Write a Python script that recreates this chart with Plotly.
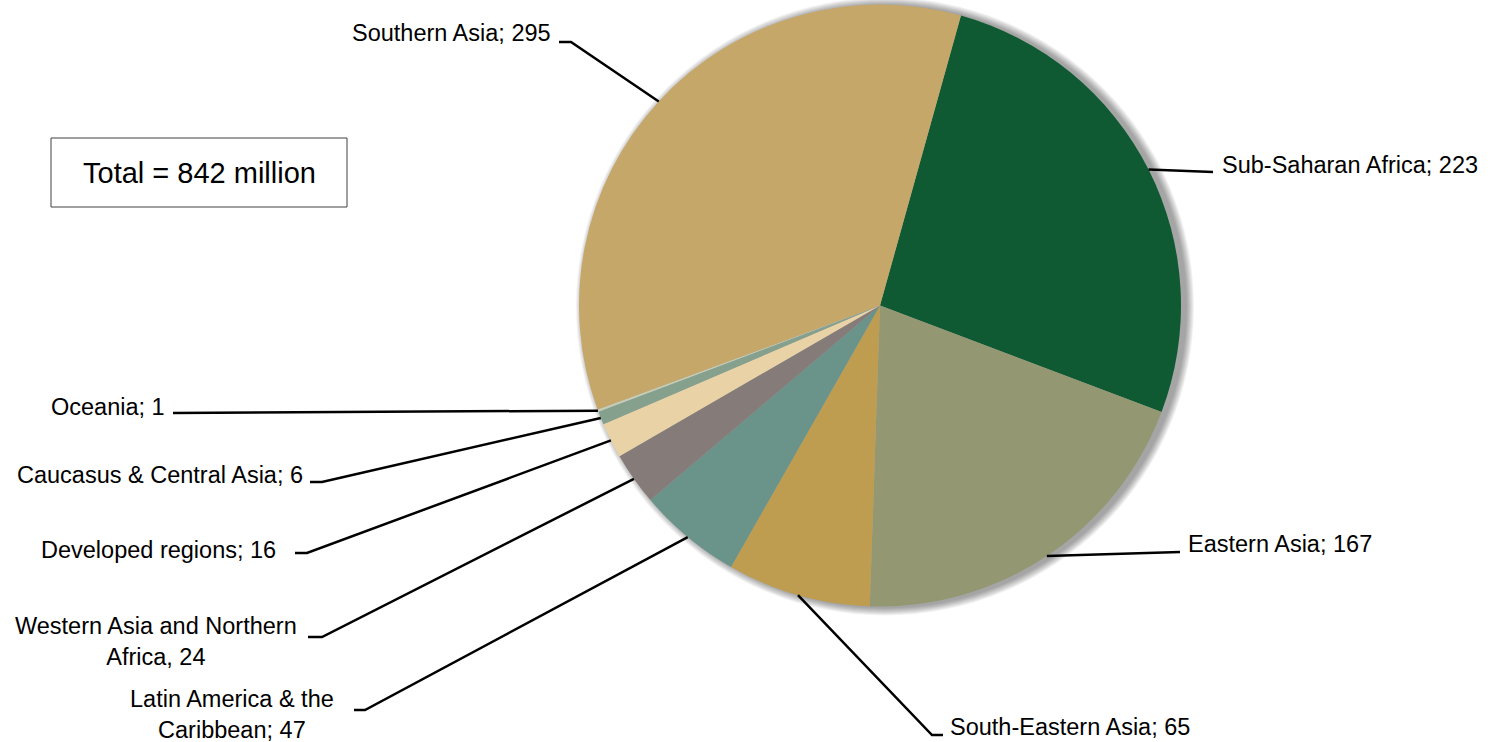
import math
import plotly.graph_objects as go

# Canvas size in pixels
W, H = 1493, 742

# Undernourished people by region (millions), in clockwise drawing order
regions = [
    "Sub-Saharan Africa",
    "Eastern Asia",
    "South-Eastern Asia",
    "Latin America & the<br>Caribbean",
    "Western Asia and Northern<br>Africa",
    "Developed regions",
    "Caucasus & Central Asia",
    "Oceania",
    "Southern Asia",
]
undernourished = [223, 167, 65, 47, 24, 16, 6, 1, 295]
separators = [";", ";", ";", ";", ",", ";", ";", ";", ";"]
slice_colors = [
    "#0F5A32",
    "#939873",
    "#BF9D50",
    "#6A9389",
    "#857B79",
    "#E9D3A6",
    "#86A08E",
    "#C5CDB5",
    "#C6A76A",
]
total_text = "Total = 842 million"

# Pie geometry (pixels)
CX, CY, R = 880, 305.5, 301
ROTATION = 15.6

# Label placement: (anchor x, anchor y, xanchor, leader path points after the slice edge)
label_layout = [
    (1220, 165, "left", [(1213, 172)]),
    (1186, 544, "left", [(1180, 552)]),
    (948, 727, "left", [(932, 735), (943, 735)]),
    (232, 714, "center", [(365, 710), (354, 710)]),
    (156, 641, "center", [(322, 637), (308, 637)]),
    (278, 550, "right", [(307, 553), (295, 553)]),
    (305, 475, "right", [(322, 482), (310, 482)]),
    (167, 407, "right", [(173, 413)]),
    (553, 33, "right", [(571, 42), (559, 42)]),
]

FONT = "Liberation Sans, Arial, sans-serif"


def px(x):
    return x / W


def py(y):
    return 1 - y / H


fig = go.Figure()
fig.add_trace(
    go.Pie(
        labels=[r.replace("<br>", " ") for r in regions],
        values=undernourished,
        sort=False,
        direction="clockwise",
        rotation=ROTATION,
        marker=dict(colors=slice_colors, line=dict(width=0)),
        textinfo="none",
        hoverinfo="label+value",
        showlegend=False,
        domain=dict(x=[px(CX - R), px(CX + R)], y=[py(CY + R), py(CY - R)]),
    )
)

shapes = []
# Soft drop shadow behind the pie, cast towards the right
for k in range(8):
    rr = R + 1 + k
    ox, oy = 5, 1
    shapes.append(
        dict(
            type="circle", xref="paper", yref="paper", layer="below",
            x0=px(CX + ox - rr), x1=px(CX + ox + rr),
            y0=py(CY + oy + rr), y1=py(CY + oy - rr),
            fillcolor="rgba(0,0,0,0.05)", line=dict(width=0),
        )
    )

# Leader lines from each slice's mid-arc point to its label
total = sum(undernourished)
angle = ROTATION
annotations = []
for name, val, sep, (ax_, ay_, xanc, pts) in zip(regions, undernourished, separators, label_layout):
    span = val / total * 360
    mid = math.radians(angle + span / 2)
    angle += span
    ex = CX + R * math.sin(mid)
    ey = CY - R * math.cos(mid)
    path = "M {} {}".format(px(ex), py(ey))
    for (lx, ly) in pts:
        path += " L {} {}".format(px(lx), py(ly))
    shapes.append(
        dict(type="path", xref="paper", yref="paper", path=path,
             line=dict(color="black", width=2.5))
    )
    annotations.append(
        dict(
            x=px(ax_), y=py(ay_), xref="paper", yref="paper",
            xanchor=xanc, yanchor="middle", align="center",
            text=f"{name}{sep} {val}", showarrow=False,
            font=dict(family=FONT, size=23.5, color="black"),
        )
    )

# Total box
shapes.append(
    dict(type="rect", xref="paper", yref="paper",
         x0=px(51), x1=px(347), y0=py(207), y1=py(138),
         line=dict(color="#404040", width=1), fillcolor="white")
)
annotations.append(
    dict(x=px(199), y=py(173), xref="paper", yref="paper",
         xanchor="center", yanchor="middle", text=total_text, showarrow=False,
         font=dict(family=FONT, size=29, color="black"))
)

fig.update_layout(
    width=W, height=H,
    margin=dict(l=0, r=0, t=0, b=0),
    paper_bgcolor="white", plot_bgcolor="white",
    shapes=shapes, annotations=annotations,
)

fig.write_html("out.html")
